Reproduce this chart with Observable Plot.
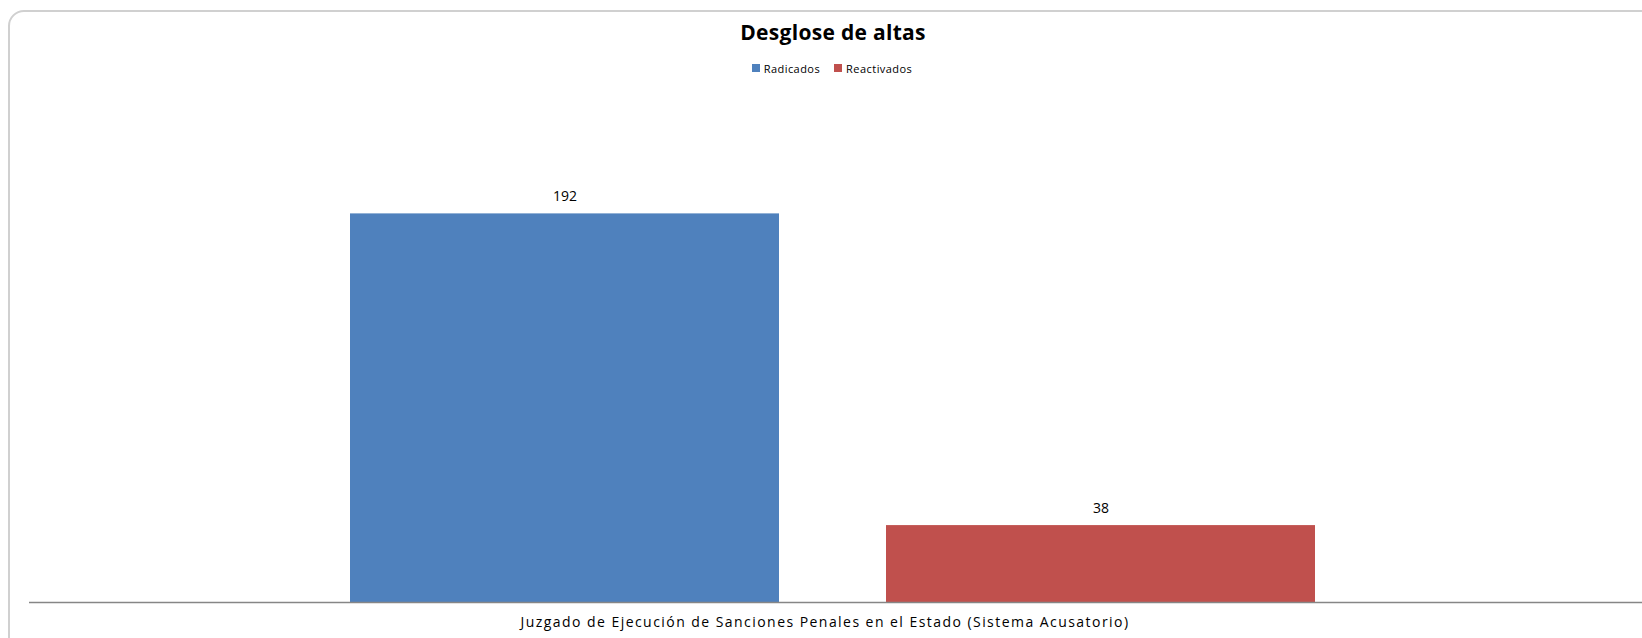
<!DOCTYPE html>
<html>
<head>
<meta charset="utf-8">
<script src="https://cdn.jsdelivr.net/npm/d3@7"></script>
<script src="https://cdn.jsdelivr.net/npm/@observablehq/plot@0.6"></script>
<style>
  html, body { margin: 0; padding: 0; background: #fff; overflow: hidden; width: 1642px; height: 638px; }
  #wrap { position: relative; width: 1642px; height: 638px; font-family: "Open Sans", sans-serif; }
  #frame { position: absolute; left: 8px; top: 10px; width: 1700px; height: 700px; border: 2px solid #d0d0d0; border-radius: 16px; box-sizing: border-box; }
  #title { position: absolute; left: 0; width: 1666px; top: 18px; text-align: center; font-weight: bold; font-size: 21px; letter-spacing: 0.3px; color: #000; }
  #legend { position: absolute; left: 0; width: 1664px; top: 60px; text-align: center; font-size: 11px; letter-spacing: 0.45px; color: #000; }
  .item { display: inline-flex; align-items: center; margin: 0 7px; }
  .sw { width: 8px; height: 8px; display: inline-block; margin-right: 4px; }
  #chart { position: absolute; left: 0; top: 0; }
  #chart svg .cat text, #chart svg text.cat { letter-spacing: 1.45px; }
</style>
</head>
<body>
<div id="wrap">
  <div id="frame"></div>
  <div id="chart"></div>
  <div id="title"></div>
  <div id="legend"></div>
</div>
<script>
const title = "Desglose de altas";
const category = "Juzgado de Ejecución de Sanciones Penales en el Estado (Sistema Acusatorio)";
const series = ["Radicados", "Reactivados"];
const values = [192, 38];
const colors = ["#4F81BD", "#C0504D"];

const data = series.map((s, i) => ({series: s, value: values[i]}));

document.getElementById("title").textContent = title;
const legend = document.getElementById("legend");
series.forEach((s, i) => {
  const it = document.createElement("span");
  it.className = "item";
  const sw = document.createElement("span");
  sw.className = "sw";
  sw.style.background = colors[i];
  it.appendChild(sw);
  it.appendChild(document.createTextNode(s));
  legend.appendChild(it);
});

const chart = Plot.plot({
  width: 1642,
  height: 638,
  marginLeft: 29,
  marginRight: 0,
  marginTop: 96,
  marginBottom: 36,
  style: {fontFamily: "Open Sans, sans-serif", background: "transparent", overflow: "visible"},
  x: {domain: series, range: [29, 1636], paddingInner: 0.2, paddingOuter: 0.599, axis: null},
  y: {domain: [0, 250], range: [602, 96], axis: null},
  color: {domain: series, range: colors},
  marks: [
    Plot.barY(data, {x: "series", y: "value", fill: "series"}),
    Plot.text(data, {x: "series", y: "value", text: d => String(d.value), dy: -17, fontSize: 14, fill: "#000"}),
    Plot.ruleY([0], {stroke: "#868686", strokeWidth: 1.5}),
    Plot.text([category], {frameAnchor: "bottom", dx: -11, dy: 24, text: d => d, fontSize: 14, fill: "#000", className: "cat"})
  ]
});
document.getElementById("chart").appendChild(chart);
</script>
</body>
</html>
